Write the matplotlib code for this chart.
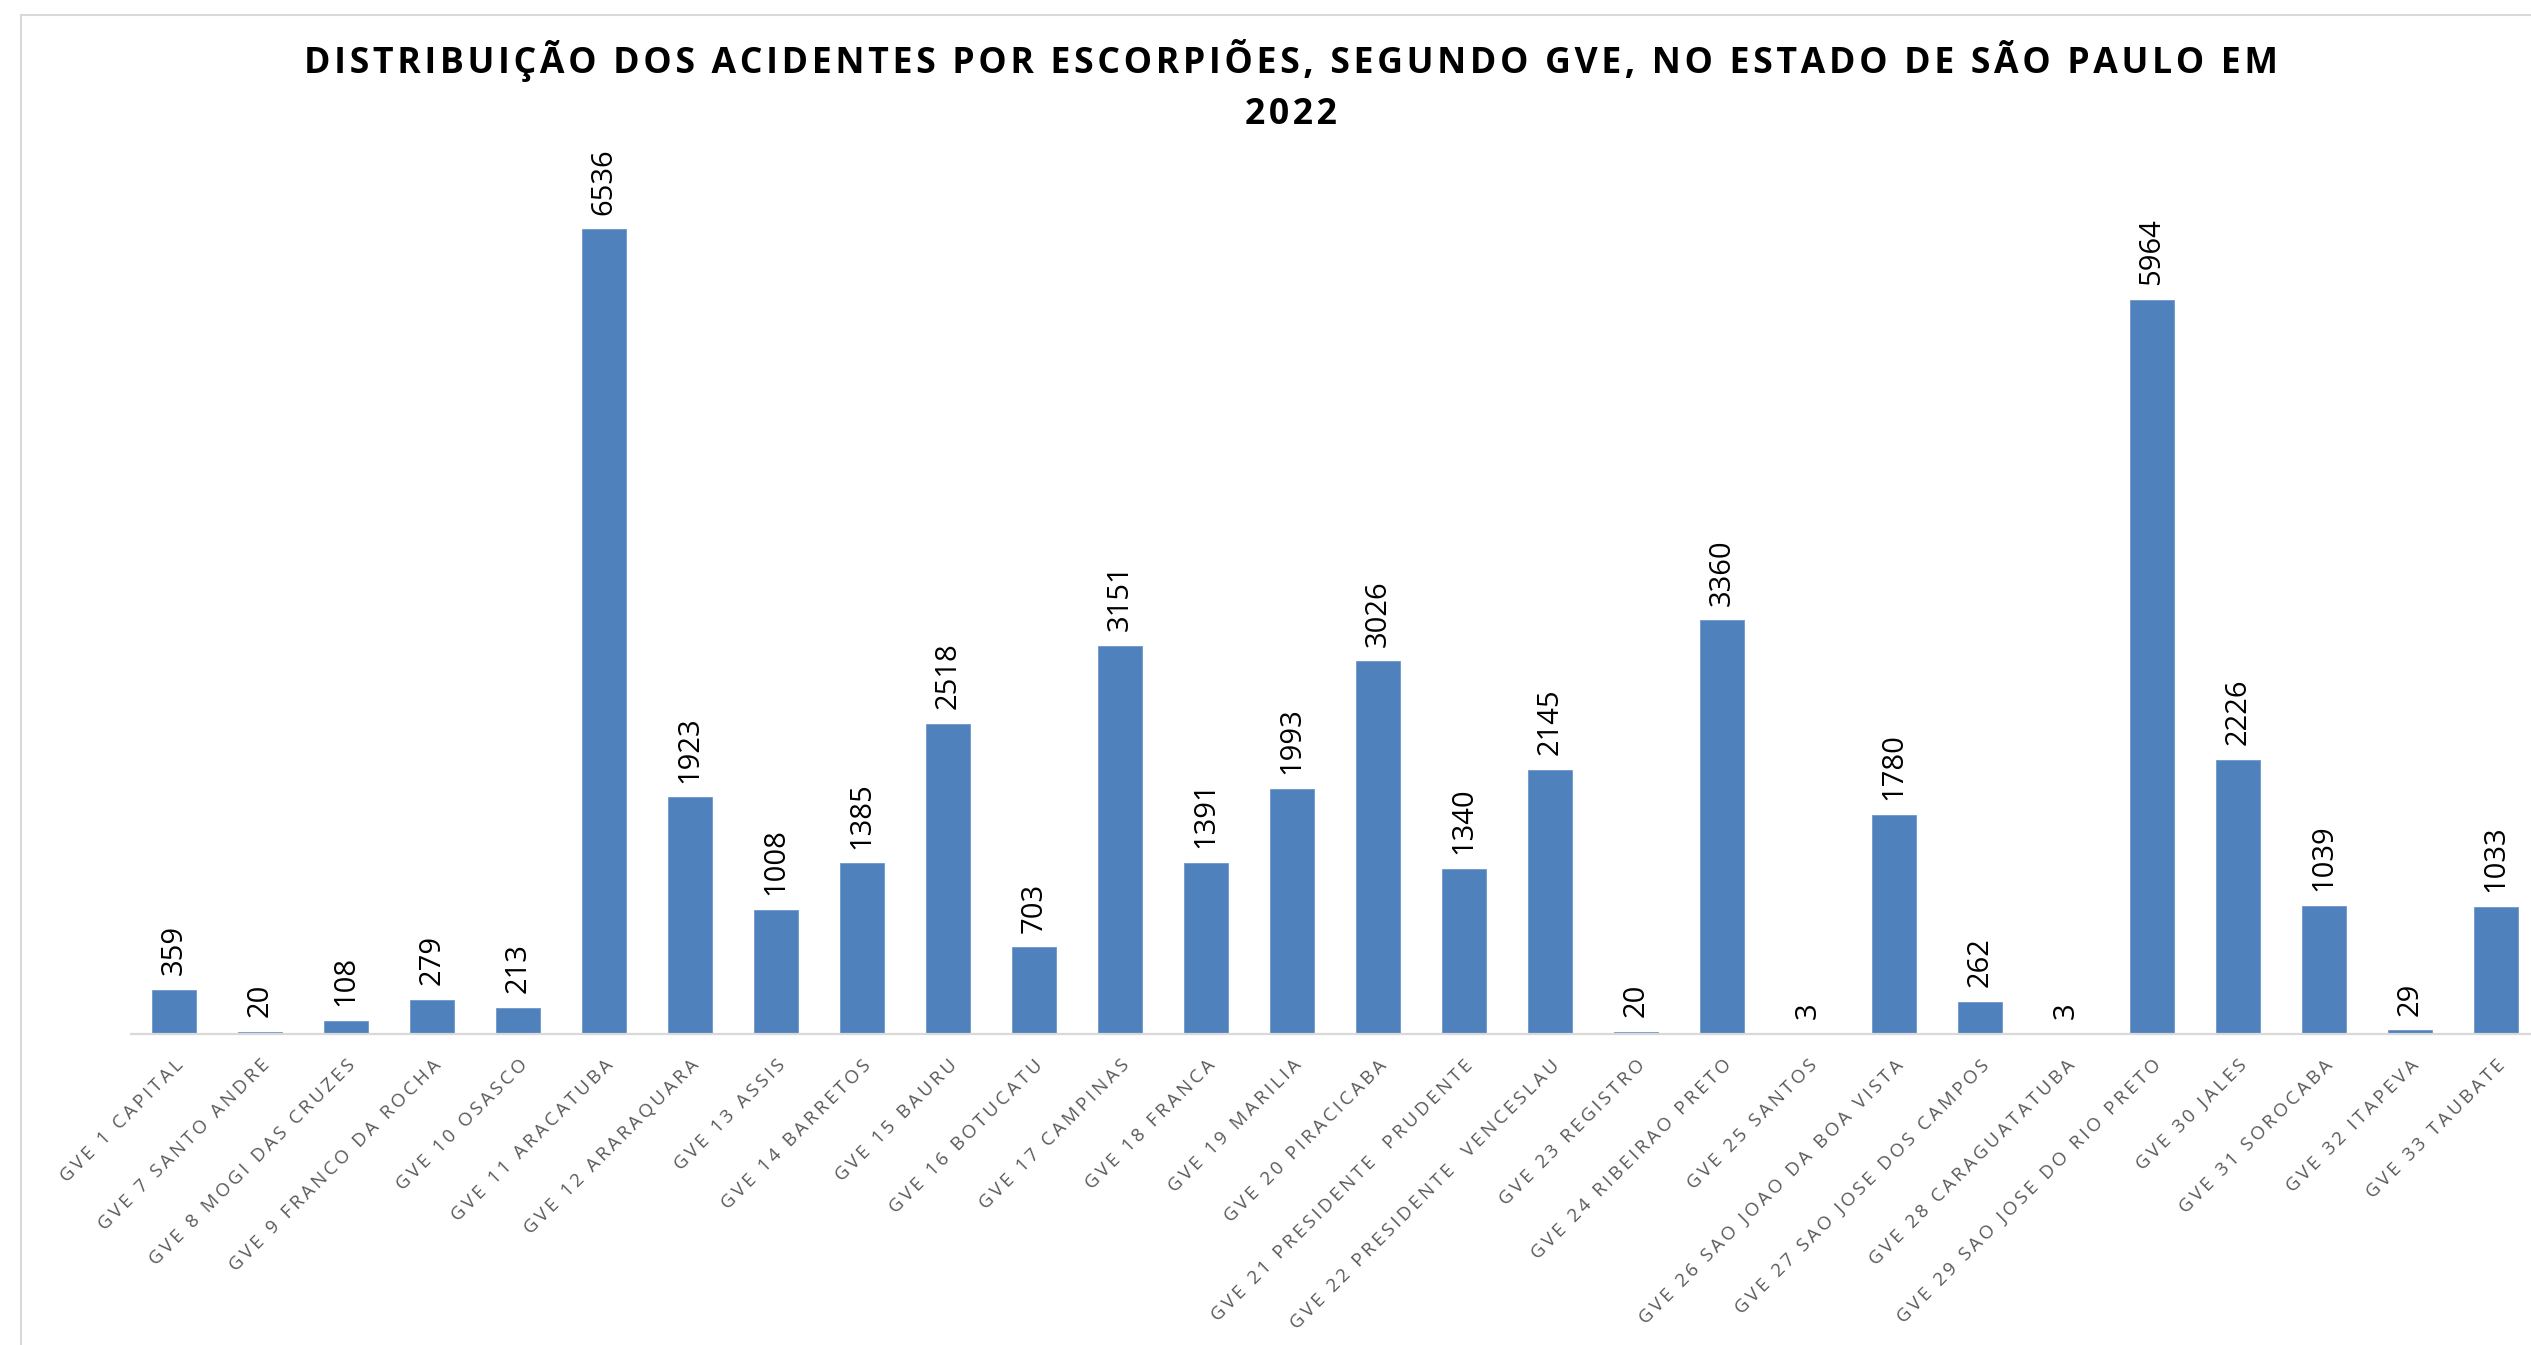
import matplotlib
matplotlib.use("Agg")
import matplotlib.pyplot as plt
from matplotlib.lines import Line2D

# dados: acidentes por escorpiões, por GVE, SP 2022
gve_labels = [
    "GVE 1 CAPITAL", "GVE 7 SANTO ANDRE", "GVE 8 MOGI DAS CRUZES",
    "GVE 9 FRANCO DA ROCHA", "GVE 10 OSASCO", "GVE 11 ARACATUBA",
    "GVE 12 ARARAQUARA", "GVE 13 ASSIS", "GVE 14 BARRETOS", "GVE 15 BAURU",
    "GVE 16 BOTUCATU", "GVE 17 CAMPINAS", "GVE 18 FRANCA", "GVE 19 MARILIA",
    "GVE 20 PIRACICABA", "GVE 21 PRESIDENTE  PRUDENTE",
    "GVE 22 PRESIDENTE  VENCESLAU", "GVE 23 REGISTRO", "GVE 24 RIBEIRAO PRETO",
    "GVE 25 SANTOS", "GVE 26 SAO JOAO DA BOA VISTA", "GVE 27 SAO JOSE DOS CAMPOS",
    "GVE 28 CARAGUATATUBA", "GVE 29 SAO JOSE DO RIO PRETO", "GVE 30 JALES",
    "GVE 31 SOROCABA", "GVE 32 ITAPEVA", "GVE 33 TAUBATE",
]
acidentes = [
    359, 20, 108, 279, 213, 6536, 1923, 1008, 1385, 2518, 703, 3151, 1391, 1993,
    3026, 1340, 2145, 20, 3360, 3, 1780, 262, 3, 5964, 2226, 1039, 29, 1033,
]

titulo_l1 = "DISTRIBUIÇÃO DOS ACIDENTES POR ESCORPIÕES, SEGUNDO GVE, NO ESTADO DE SÃO PAULO EM"
titulo_l2 = "2022"

plt.rcParams["font.family"] = ["Open Sans", "DejaVu Sans"]


def espacar(s, sep):
    # simula o espaçamento entre letras do Excel
    return sep.join(s)


W, H = 2531, 1345
fig = plt.figure(figsize=(W / 100, H / 100), dpi=100)

# moldura cinza do gráfico (topo e esquerda)
fig.add_artist(Line2D([21 / W, 21 / W], [0, 1 - 15 / H], color="#d9d9d9", lw=1.5))
fig.add_artist(Line2D([21 / W, 1], [1 - 15 / H, 1 - 15 / H], color="#d9d9d9", lw=1.5))

left, right = 131, 2539
base, top = 1034, 172
ax = fig.add_axes([left / W, (H - base) / H, (right - left) / W, (base - top) / H])

x = range(len(acidentes))
bars = ax.bar(x, acidentes, width=0.51, color="#4f81bd", edgecolor="#6d97cb", linewidth=0.6)
ax.set_xlim(-0.5, len(acidentes) - 0.5)
ax.set_ylim(0, 7000)

for b, v in zip(bars, acidentes):
    ax.annotate(str(v), (b.get_x() + b.get_width() / 2, v), xytext=(0, 10.5),
                textcoords="offset points", ha="center", va="bottom",
                rotation=90, fontsize=21, color="black")

ax.set_xticks(list(x))
ax.set_xticklabels([espacar(s, "\u2009") for s in gve_labels], rotation=45, ha="right",
                   va="top", rotation_mode="anchor", fontsize=13.5, color="#595959")
ax.tick_params(axis="x", length=0, pad=16)
ax.set_yticks([])
for s in ["top", "right", "left"]:
    ax.spines[s].set_visible(False)
ax.spines["bottom"].set_color("#d9d9d9")
ax.spines["bottom"].set_linewidth(1.6)

fig.text(1291 / W, 1 - 61 / H, espacar(titulo_l1, "\u200a"), ha="center", va="center",
         fontsize=25.7, fontweight="bold")
fig.text(1291 / W, 1 - 115 / H, espacar(titulo_l2, "\u200a"), ha="center", va="center",
         fontsize=25.7, fontweight="bold")

fig.savefig("out.png", dpi=100)
